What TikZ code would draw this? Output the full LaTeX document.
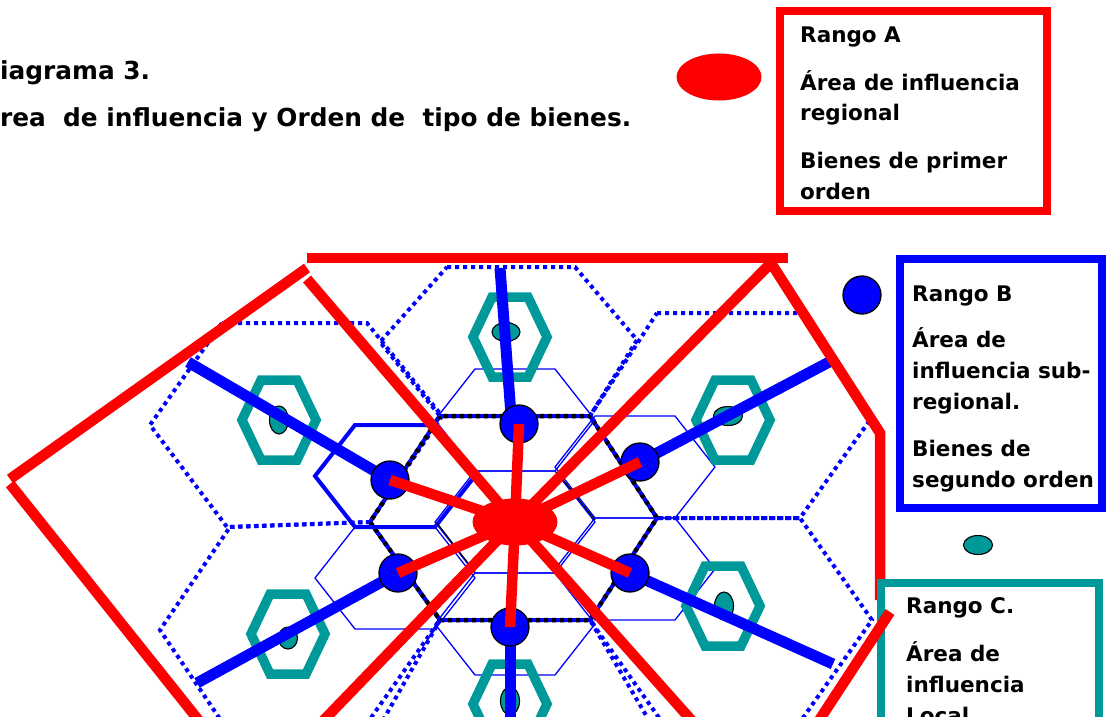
\documentclass[tikz,border=0pt]{standalone}
\usepackage{fontspec}
\usetikzlibrary{shapes.geometric}
\newfontfamily\lbl{DejaVu Sans}
\definecolor{tealc}{RGB}{0,153,153}
\begin{document}
\begin{tikzpicture}[x=1pt,y=-1pt,
  bdot/.style={draw=blue, line width=4pt, dash pattern=on 4pt off 4pt},
  kdot/.style={draw=black, line width=4.5pt, dash pattern=on 4pt off 4pt, dash phase=4pt},
  thinhex/.style={draw=blue, line width=1.3pt},
  medhex/.style={draw=blue, line width=4pt},
  blink/.style={draw=blue, line width=11pt},
  rline/.style={draw=red, line width=10.5pt},
  thex/.style={draw=tealc, line width=9.5pt},
  tell/.style={ellipse, fill=tealc, draw=black, line width=1.1pt, inner sep=0pt},
  bnode/.style={circle, fill=blue, draw=black, line width=1.3pt, minimum size=38pt, inner sep=0pt},
  rell/.style={ellipse, fill=red, inner sep=0pt, minimum width=85pt, minimum height=47pt},
  txt/.style={anchor=base west, inner sep=0pt, font=\lbl\bfseries\fontsize{21.5}{31}\selectfont},
  ttl/.style={anchor=base west, inner sep=0pt, font=\lbl\bfseries\fontsize{24.8}{31}\selectfont},
  lbox/.style={line width=8.5pt, fill=white}
]
\useasboundingbox (0,0) rectangle (1106,717);
\clip (0,0) rectangle (1106,717);

% ---- large dotted hexagons (rango B areas)
\draw[bdot] (447,267) -- (575,267) -- (637,340) -- (590,416) -- (440,416) -- (380,342) -- cycle;
\draw[bdot] (222,323) -- (367,323) -- (442,416) -- (370,522) -- (227,527) -- (150,425) -- cycle;
\draw[bdot] (657,313) -- (800,313) -- (870,420) -- (800,518) -- (657,518) -- (590,416) -- cycle;
\draw[bdot] (657,518) -- (800,518) -- (872,620) -- (800,722) -- (662,722) -- (590,620) -- cycle;
\draw[bdot] (230,527) -- (370,522) -- (440,620) -- (368,722) -- (222,722) -- (160,630) -- cycle;
\draw[bdot] (440,620) -- (590,620) -- (650,722) -- (590,800) -- (440,800) -- (382,722) -- cycle;
% central (black dotted)
\draw[bdot] (440,416) -- (590,416) -- (657,518) -- (590,620) -- (440,620) -- (370,522) -- cycle;
\draw[kdot] (440,416) -- (590,416) -- (657,518) -- (590,620) -- (440,620) -- (370,522) -- cycle;

% ---- small solid hexagons
\foreach \cx/\cy in {515/522, 515/420, 635/467, 635/569, 515/624, 395/578}{
  \draw[thinhex, shift={(\cx,\cy)}] (-80,0) -- (-40,-51) -- (40,-51) -- (80,0) -- (40,51) -- (-40,51) -- cycle;
}
\draw[medhex, shift={(395,476)}] (-80,0) -- (-40,-51) -- (40,-51) -- (80,0) -- (40,51) -- (-40,51) -- cycle;
\draw[black, line width=1.1pt] (437,523) -- (475,572);
\draw[black, line width=1.1pt] (557,472) -- (595,520);

% ---- teal hexagons (rango C areas)
\foreach \cx/\cy in {510/337, 279/420, 733/420, 723/606, 288/634, 510/704}{
  \draw[thex, shift={(\cx,\cy)}] (-37,0) -- (-18,-40) -- (18,-40) -- (37,0) -- (18,40) -- (-18,40) -- cycle;
}
\node[tell, minimum width=28pt, minimum height=19pt] (c1) at (506,332) {};
\node[tell, minimum width=19pt, minimum height=28pt] (c2) at (279,420) {};
\node[tell, minimum width=29pt, minimum height=19pt] (c3) at (728,416) {};
\node[tell, minimum width=19pt, minimum height=28pt] (c4) at (724,606) {};
\node[tell, minimum width=19pt, minimum height=22pt] (c5) at (288,638) {};
\node[tell, minimum width=19pt, minimum height=28pt] (c6) at (510,701) {};
\node[tell, minimum width=19pt, minimum height=22pt] (c7) at (518,624) {};

% ---- blue links
\coordinate (e1) at (500,268);
\coordinate (e2) at (188,362);
\coordinate (e3) at (833,360);
\coordinate (e4) at (833,664);
\coordinate (e5) at (197,683);
\coordinate (e6) at (510,730);
\coordinate (b1) at (519,424);
\coordinate (b2) at (390,480);
\coordinate (b3) at (640,462);
\coordinate (b4) at (630,573);
\coordinate (b5) at (398,573);
\coordinate (b6) at (510,627);
\draw[blink] (e1) -- (511,415);
\draw[blink] (e2) -- (b2);
\draw[blink] (e3) -- (b3);
\draw[blink] (e4) -- (b4);
\draw[blink] (e5) -- (b5);
\draw[blink] (e6) -- (b6);
\foreach \i in {1,...,6}{ \node[bnode] (B\i) at (b\i) {}; }

% ---- red outer limits and spokes
\coordinate (c0) at (515,522);
\draw[rline] (307,258) -- (788,258);
\draw[rline] (307,268) -- (10,479);
\draw[rline] (10,484) -- (200,722);
\draw[rline] (771,263) -- (880,433) -- (880,600);
\draw[rline] (307,279) -- (c0);
\draw[rline] (771,263) -- (c0);
\draw[rline] (c0) -- (322,722);
\draw[rline] (c0) -- (693,722);
\foreach \i in {1,...,6}{ \draw[rline] (c0) -- (B\i.center); }
\node[rell] (C) at (c0) {};

% ---- legend
\node[rell] (LA) at (719,77) {};
\node[bnode, minimum size=38pt] (LB) at (862,295) {};
\node[tell, minimum width=29pt, minimum height=19pt] (LC) at (978,545) {};
\draw[lbox, draw=red] (780,11) rectangle (1047,211);
\draw[lbox, draw=blue] (900,259) rectangle (1102,508);
\draw[lbox, draw=tealc] (881,583) rectangle (1099,740);
\draw[rline] (890,612) -- (818,722);

% ---- texts
\node[ttl] (t1) at (0,80) {iagrama 3.};
\node[ttl] (t2) at (0,126) {rea\ \ de influencia y Orden de\ \ tipo de bienes.};
\node[txt] (ra1) at (800,43) {Rango A};
\node[txt] (ra2) at (800,90) {Área de influencia};
\node[txt] (ra3) at (800,121) {regional};
\node[txt] (ra4) at (800,168) {Bienes de primer};
\node[txt] (ra5) at (800,199) {orden};
\node[txt] (rb1) at (912,301) {Rango B};
\node[txt] (rb2) at (912,347) {Área de};
\node[txt] (rb3) at (912,378) {influencia sub-};
\node[txt] (rb4) at (912,409) {regional.};
\node[txt] (rb5) at (912,456) {Bienes de};
\node[txt] (rb6) at (912,487) {segundo orden};
\node[txt] (rc1) at (906,613) {Rango C.};
\node[txt] (rc2) at (906,661) {Área de};
\node[txt] (rc3) at (906,692) {influencia};
\node[txt] (rc4) at (906,723) {Local};
\end{tikzpicture}
\end{document}
